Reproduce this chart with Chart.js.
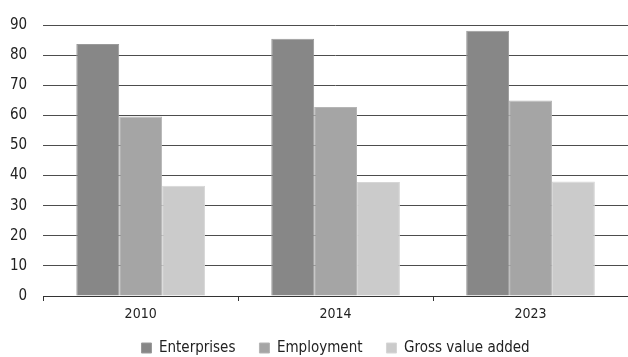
<!DOCTYPE html>
<html>
<head>
<meta charset="utf-8">
<script src="https://cdn.jsdelivr.net/npm/chart.js@4"></script>
<style>
  html, body { margin: 0; padding: 0; background: #fff; }
  #wrap { width: 628px; height: 357px; }
</style>
</head>
<body>
<div id="wrap"><canvas id="myChart"></canvas></div>
<script>
// years on the x axis
const years = ['2010', '2014', '2023']

// shares per year
const enterprises = [83.7, 85.4, 88.1]
const employment  = [59.6, 62.8, 64.9]
const grossValue  = [36.6, 37.9, 38.0]

const seriesNames = ['Enterprises', 'Employment', 'Gross value added']

const FONT = '"Liberation Sans Narrow", "DejaVu Sans Condensed", "Open Sans", sans-serif'

// the x axis box is kept short so the legend sits close to it;
// stretch its bottom afterwards so the year labels are not clipped
const xLabelRoom = {
  id: 'xLabelRoom',
  afterLayout(chart) {
    const x = chart.scales.x
    x.bottom = x.top + 30
  }
}

var ctx = document.getElementById('myChart').getContext('2d')

var chart = new Chart(ctx, {
  type: 'bar',
  data: {
    labels: years,
    datasets: [
      { label: seriesNames[0], data: enterprises, backgroundColor: '#878787', borderColor: '#9a9a9a', borderWidth: 1 },
      { label: seriesNames[1], data: employment,  backgroundColor: '#a5a5a5', borderColor: '#b5b5b5', borderWidth: 1 },
      { label: seriesNames[2], data: grossValue,  backgroundColor: '#cbcbcb', borderColor: '#d6d6d6', borderWidth: 1 }
    ]
  },
  plugins: [xLabelRoom],
  options: {
    responsive: true,
    maintainAspectRatio: false,
    animation: false,
    layout: { padding: { top: 14, right: 0, bottom: -8.5, left: -6 } },
    datasets: {
      bar: { categoryPercentage: 0.66, barPercentage: 1.0 }
    },
    plugins: {
      tooltip: { enabled: false },
      legend: {
        position: 'bottom',
        fullSize: false,
        labels: {
          boxWidth: 10,
          boxHeight: 10,
          padding: 24,
          color: '#222',
          font: { family: FONT, size: 15 }
        }
      }
    },
    scales: {
      x: {
        grid: {
          offset: true,
          drawOnChartArea: false,
          drawTicks: true,
          tickLength: 5,
          color: '#333'
        },
        border: { display: true, color: '#333', width: 1 },
        ticks: { color: '#222', padding: 5, font: { family: FONT, size: 14 } },
        afterFit: (scale) => { scale.height = 20.5 }
      },
      y: {
        min: 0,
        max: 90,
        grid: { color: '#4d4d4d', lineWidth: 1, drawTicks: false },
        border: { display: false },
        ticks: {
          stepSize: 10,
          color: '#222',
          padding: 16,
          font: { family: FONT, size: 15 }
        }
      }
    }
  }
})
</script>
</body>
</html>
